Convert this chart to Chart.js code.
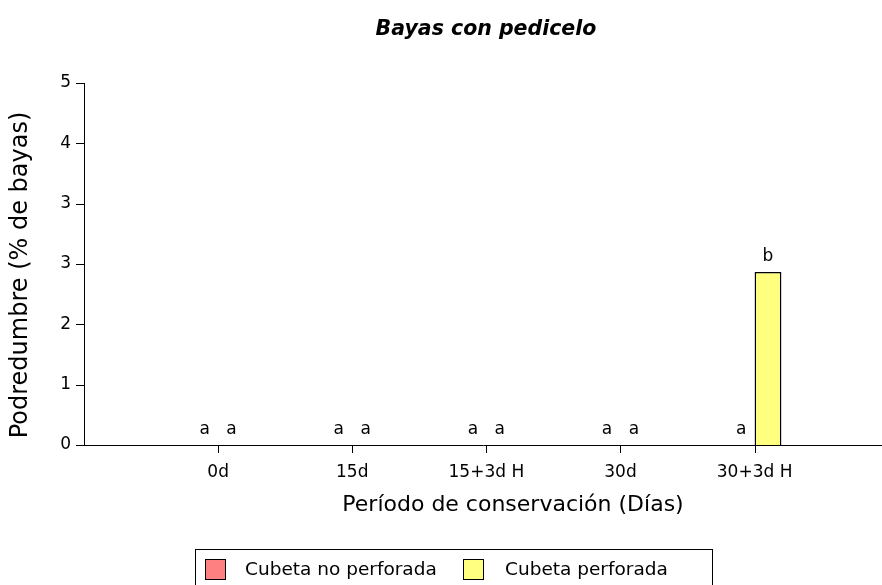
<!DOCTYPE html>
<html>
<head>
<meta charset="utf-8">
<script src="https://cdn.jsdelivr.net/npm/chart.js@4"></script>
<style>
  html, body { margin: 0; padding: 0; background: #fff; }
  #caja { width: 882px; height: 585px; }
</style>
</head>
<body>
<div id="caja"><canvas id="grafico"></canvas></div>
<script>
// datos del grafico
const categorias = ["0d", "15d", "15+3d H", "30d", "30+3d H"];
const noPerforada = [0, 0, 0, 0, 0];
const perforada = [0, 0, 0, 0, 2.39];
const letrasNoPerforada = ["a", "a", "a", "a", "a"];
const letrasPerforada = ["a", "a", "a", "a", "b"];
const valoresY = [0, 0.833, 1.667, 2.5, 3.333, 4.167, 5];
const etiquetasY = ["0", "1", "2", "3", "3", "4", "5"];

const titulo = "Bayas con pedicelo";
const tituloX = "Período de conservación (Días)";
const tituloY = "Podredumbre (% de bayas)";

const fuente = "'DejaVu Sans', sans-serif";
const canvas = document.getElementById("grafico");

// textos, marcas, letras y leyenda
const textos = {
  id: "textos",
  afterDraw(chart) {
    const ctx = chart.ctx;
    const area = chart.chartArea;
    ctx.save();
    ctx.fillStyle = "#000";

    ctx.font = `italic bold 20.5px ${fuente}`;
    ctx.textAlign = "center";
    ctx.textBaseline = "middle";
    ctx.fillText(titulo, 486, 30);

    ctx.font = `22px ${fuente}`;
    ctx.fillText(tituloX, 513, 505);

    ctx.save();
    ctx.translate(21, 275);
    ctx.rotate(-Math.PI / 2);
    ctx.font = `24px ${fuente}`;
    ctx.fillText(tituloY, 0, 0);
    ctx.restore();

    // marcas de los ejes
    const y = chart.scales.y;
    const x = chart.scales.x;
    y.ticks.forEach((t) => {
      const py = Math.round(y.getPixelForValue(t.value));
      ctx.fillRect(area.left - 8, py, 8, 1);
    });
    x.ticks.forEach((t, i) => {
      const px = Math.round(x.getPixelForTick(i));
      ctx.fillRect(px, area.bottom, 1, 8);
    });

    // letras de significancia
    ctx.font = `17px ${fuente}`;
    ctx.textBaseline = "alphabetic";
    const letras = [letrasNoPerforada, letrasPerforada];
    chart.data.datasets.forEach((ds, d) => {
      chart.getDatasetMeta(d).data.forEach((bar, i) => {
        ctx.fillText(letras[d][i], bar.x, bar.y - 11);
      });
    });

    // leyenda con borde
    ctx.strokeStyle = "#000";
    ctx.lineWidth = 1;
    ctx.strokeRect(195.5, 549.5, 517, 45);
    ctx.font = `18.5px ${fuente}`;
    ctx.textAlign = "left";
    ctx.textBaseline = "middle";
    const posiciones = [[205, 245], [463, 505]];
    chart.data.datasets.forEach((ds, d) => {
      const [xc, xt] = posiciones[d];
      ctx.fillStyle = ds.backgroundColor;
      ctx.fillRect(xc, 559, 20, 20);
      ctx.strokeRect(xc + 0.5, 559.5, 20, 20);
      ctx.fillStyle = "#000";
      ctx.fillText(ds.label, xt, 570);
    });
    ctx.restore();
  },
};

const config = {
  type: "bar",
  data: {
    datasets: [
      {
        label: "Cubeta no perforada",
        backgroundColor: "#FF8080",
        borderColor: "#000",
        borderWidth: 1.5,
        data: noPerforada.map((v, i) => ({ x: i + 1, y: v })),
      },
      {
        label: "Cubeta perforada",
        backgroundColor: "#FFFF80",
        borderColor: "#000",
        borderWidth: 1.5,
        data: perforada.map((v, i) => ({ x: i + 1, y: v })),
      },
    ],
  },
  options: {
    responsive: true,
    maintainAspectRatio: false,
    animation: false,
    categoryPercentage: 0.4,
    barPercentage: 1,
    layout: { padding: { top: 83, left: 0, right: 0, bottom: 0 } },
    plugins: {
      legend: { display: false },
      title: { display: false },
      tooltip: { enabled: false },
    },
    scales: {
      x: {
        type: "linear",
        min: 0,
        max: 5.95,
        offset: false,
        afterBuildTicks: (s) => {
          s.ticks = categorias.map((c, i) => ({ value: i + 1 }));
        },
        afterFit: (s) => {
          s.height = 140;
        },
        ticks: {
          color: "#000",
          font: { family: fuente, size: 17 },
          padding: 9,
          maxRotation: 0,
          autoSkip: false,
          callback: (v) => categorias[v - 1] ?? "",
        },
        grid: { display: false, tickLength: 8 },
        border: { color: "#000", width: 1 },
      },
      y: {
        min: 0,
        max: 5,
        afterBuildTicks: (s) => {
          s.ticks = valoresY.map((v) => ({ value: v }));
        },
        afterFit: (s) => {
          s.width = 84;
        },
        ticks: {
          color: "#000",
          font: { family: fuente, size: 17 },
          padding: 5,
          callback: (v, i) => etiquetasY[i],
        },
        grid: { display: false, tickLength: 8 },
        border: { color: "#000", width: 1 },
      },
    },
  },
  plugins: [textos],
};

new Chart(canvas, config);
</script>
</body>
</html>
